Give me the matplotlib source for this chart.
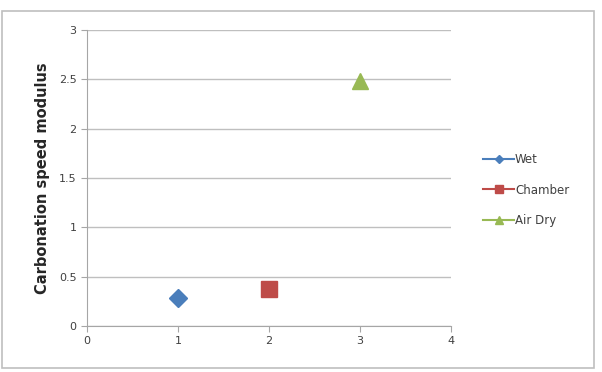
"""Carbonation speed modulus by curing condition."""
import matplotlib.pyplot as plt
from matplotlib.patches import Rectangle

# data
series_names = ["Wet", "Chamber", "Air Dry"]
x_values = [1, 2, 3]
y_values = [0.28, 0.38, 2.48]
colors = ["#4A7EBB", "#BE4B48", "#98B954"]
markers = ["D", "s", "^"]
marker_sizes = [9, 12, 12]
x_ticks = [0, 1, 2, 3, 4]
y_ticks = [0, 0.5, 1, 1.5, 2, 2.5, 3]
y_tick_labels = ["0", "0.5", "1", "1.5", "2", "2.5", "3"]

fig = plt.figure(figsize=(6.02, 3.72), dpi=100)
ax = fig.add_axes([0.1445, 0.1237, 0.6045, 0.7953])

# outer chart border
fig.patches.append(Rectangle((2 / 602, 4 / 372), 592 / 602, 357 / 372, transform=fig.transFigure,
                             fill=False, edgecolor="#BFBFBF", linewidth=1.2))

for name, x, y, c, m, ms in zip(series_names, x_values, y_values, colors, markers, marker_sizes):
    ax.plot([x], [y], linestyle="-", color=c, marker=m, markersize=ms, label=name, zorder=3)

ax.set_xlim(0, 4)
ax.set_ylim(0, 3)
ax.set_xticks(x_ticks)
ax.set_yticks(y_ticks)
ax.set_yticklabels(y_tick_labels)
ax.grid(True, axis="y", color="#BFBFBF", linewidth=1)
ax.set_axisbelow(True)
for side in ["top", "right"]:
    ax.spines[side].set_visible(False)
for side in ["left", "bottom"]:
    ax.spines[side].set_color("#A6A6A6")
ax.tick_params(axis="both", colors="#A6A6A6", labelcolor="#404040", labelsize=8, length=4)
ax.set_ylabel("Carbonation speed modulus", fontsize=10.5, fontweight="bold", color="#262626", labelpad=6)

handles, labels = ax.get_legend_handles_labels()
leg = fig.legend(handles, labels, loc="center left", bbox_to_anchor=(0.785, 0.489), frameon=False,
                 fontsize=8.5, handlelength=2.6, handletextpad=0.1, labelspacing=1.45, markerscale=0.45)
for text in leg.get_texts():
    text.set_color("#404040")

fig.savefig("out.png", dpi=100)
